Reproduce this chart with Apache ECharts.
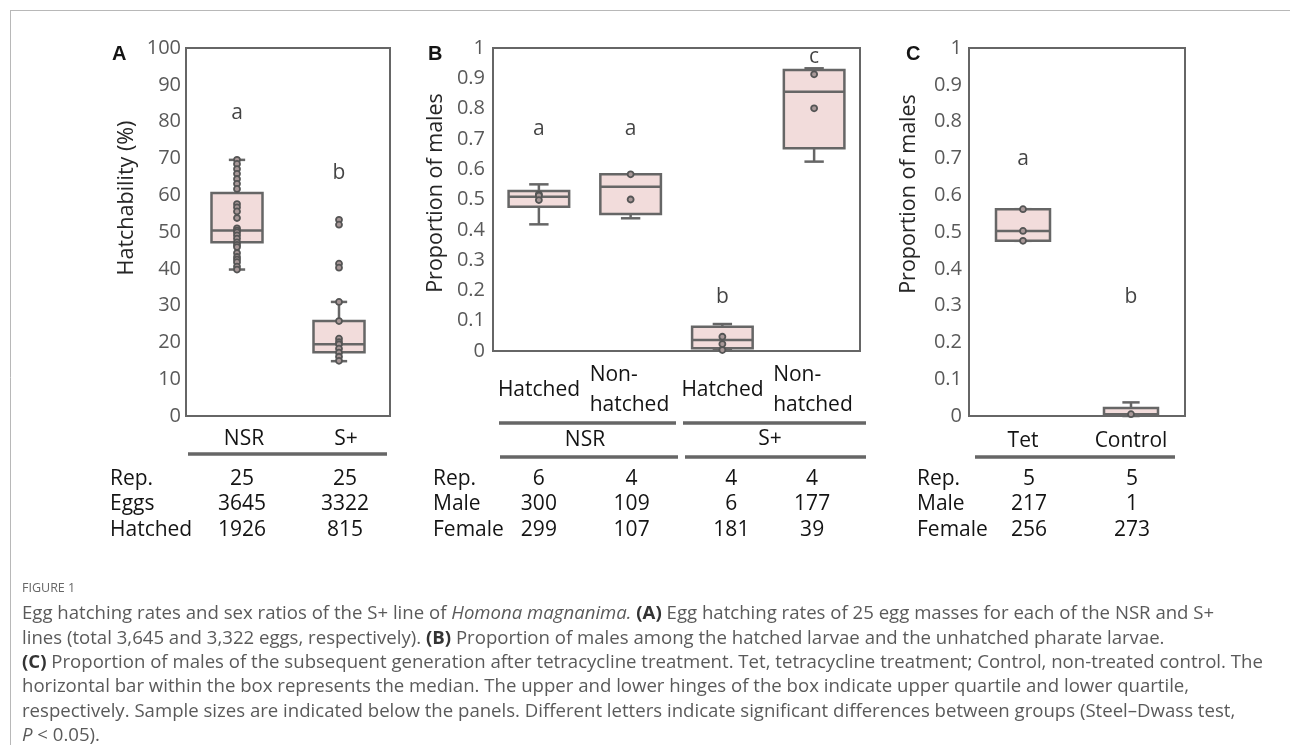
<!DOCTYPE html>
<html>
<head>
<meta charset="utf-8">
<script src="https://cdn.jsdelivr.net/npm/echarts@6/dist/echarts.min.js"></script>
<style>
  html, body { margin: 0; padding: 0; background: #fff; }
  #chart { width: 1290px; height: 747px; }
</style>
</head>
<body>
<div id="chart"></div>
<script>
  // ---- data ----
  // panel A: hatchability (%)
  var catsA = ['NSR', 'S+'];
  var boxA = [[39.8, 47.2, 50.4, 60.6, 69.6], [14.9, 17.3, 19.5, 25.8, 31.0]]; // min, q1, median, q3, max
  var ptsA_NSR = [69.6, 68.5, 67.1, 65.8, 64.4, 63.1, 61.7, 57.6, 56.7, 55.6, 53.8, 51.0, 50.4, 49.9, 49.1,
                  48.2, 47.2, 46.5, 45.9, 44.3, 43.2, 42.5, 41.8, 40.6, 39.8];
  var ptsA_S = [53.3, 52.0, 41.4, 40.3, 31.0, 25.8, 21.0, 20.1, 19.5, 18.3, 17.2, 16.1, 15.0];
  var lettersA = ['a', 'b'];
  var letterYA = [82.4, 66.1];

  // panel B: proportion of males, hatched / non-hatched
  var catsB = ['Hatched NSR', 'Non-hatched NSR', 'Hatched S+', 'Non-hatched S+'];
  var labelsB = ['Hatched', 'Non-\nhatched', 'Hatched', 'Non-\nhatched'];
  var boxB = [[0.418, 0.476, 0.509, 0.528, 0.550], [0.438, 0.452, 0.542, 0.583, 0.583],
              [0.003, 0.009, 0.036, 0.080, 0.089], [0.625, 0.669, 0.856, 0.927, 0.933]];
  var ptsB = [[0.517, 0.513, 0.498], [0.583, 0.500], [0.047, 0.023, 0.003], [0.913, 0.801]];
  var lettersB = ['a', 'a', 'b', 'c'];
  var letterYB = [0.733, 0.733, 0.179, 0.969];
  var groupsB = ['NSR', 'S+'];

  // panel C: tetracycline
  var catsC = ['Tet', 'Control'];
  var boxC = [[0.476, 0.476, 0.503, 0.562, 0.562], [0.0, 0.003, 0.005, 0.022, 0.037]];
  var ptsC = [[0.562, 0.503, 0.476], [0.005]];
  var lettersC = ['a', 'b'];
  var letterYC = [0.698, 0.324];

  // sample size tables
  var rowNamesA = ['Rep.', 'Eggs', 'Hatched'];
  var repA = [25, 25], eggsA = [3645, 3322], hatchedA = [1926, 815];
  var rowNamesB = ['Rep.', 'Male', 'Female'];
  var repB = [6, 4, 4, 4], maleB = [300, 109, 6, 177], femaleB = [299, 107, 181, 39];
  var rowNamesC = ['Rep.', 'Male', 'Female'];
  var repC = [5, 5], maleC = [217, 1], femaleC = [256, 273];

  // ---- styles ----
  var FONT = "'Open Sans', 'DejaVu Sans', sans-serif";
  var GRAY = '#666666';
  var PINK = '#f2dcdb';
  var INK = '#141414';

  var chart = echarts.init(document.getElementById('chart'));

  function boxSeries(idx, boxes) {
    return {
      type: 'custom', xAxisIndex: idx, yAxisIndex: idx, z: 2, silent: true,
      data: boxes.map(function (b, i) { return [i].concat(b); }),
      encode: { x: 0, y: [1, 2, 3, 4, 5] },
      renderItem: function (params, api) {
        var c = api.value(0);
        var p = [1, 2, 3, 4, 5].map(function (d) { return api.coord([c, api.value(d)]); });
        var band = api.size([1, 0])[0];
        var bw = band * (idx === 1 ? 0.66 : 0.5);
        var hw = bw / 2, cap = bw * 0.16;
        var x = p[0][0];
        var st = { stroke: GRAY, lineWidth: 2.5, fill: null };
        return {
          type: 'group',
          children: [
            { type: 'line', shape: { x1: x, y1: p[4][1], x2: x, y2: p[3][1] }, style: st },
            { type: 'line', shape: { x1: x, y1: p[1][1], x2: x, y2: p[0][1] }, style: st },
            { type: 'line', shape: { x1: x - cap, y1: p[4][1], x2: x + cap, y2: p[4][1] }, style: st },
            { type: 'line', shape: { x1: x - cap, y1: p[0][1], x2: x + cap, y2: p[0][1] }, style: st },
            { type: 'rect', shape: { x: x - hw, y: p[3][1], width: bw, height: p[1][1] - p[3][1] },
              style: { fill: PINK, stroke: GRAY, lineWidth: 2.5 } },
            { type: 'line', shape: { x1: x - hw, y1: p[2][1], x2: x + hw, y2: p[2][1] }, style: st }
          ]
        };
      }
    };
  }

  function pointSeries(idx, groups) {
    var data = [];
    groups.forEach(function (g, i) { g.forEach(function (v) { data.push([i, v]); }); });
    return {
      type: 'scatter', xAxisIndex: idx, yAxisIndex: idx, z: 3, silent: true,
      symbolSize: 6, data: data,
      itemStyle: { color: '#a89898', borderColor: '#555555', borderWidth: 1.8, opacity: 1 }
    };
  }

  function letterSeries(idx, letters, ys) {
    return {
      type: 'scatter', xAxisIndex: idx, yAxisIndex: idx, z: 4, silent: true,
      symbolSize: 1, itemStyle: { color: 'rgba(0,0,0,0)' },
      data: letters.map(function (l, i) { return [i, ys[i], l]; }),
      label: { show: true, position: 'inside', formatter: function (p) { return p.value[2]; },
               fontSize: 21, color: INK, fontFamily: FONT }
    };
  }

  function yAxis(idx, max, interval, margin) {
    return {
      gridIndex: idx, type: 'value', min: 0, max: max, interval: interval,
      axisLine: { show: false }, axisTick: { show: false }, splitLine: { show: false },
      axisLabel: { fontSize: 20, color: '#595959', margin: margin, fontFamily: FONT }
    };
  }

  function grid(left, top, width, height) {
    return { left: left, top: top, width: width, height: height, show: true,
             borderColor: GRAY, borderWidth: 2, backgroundColor: 'transparent' };
  }

  var catLabel = { fontSize: 21, color: INK, fontFamily: FONT, verticalAlign: 'middle' };

  chart.setOption({
    animation: false,
    grid: [grid(186, 48, 204, 368), grid(493, 48, 367, 303), grid(969, 48, 216, 368)],
    xAxis: [
      { gridIndex: 0, type: 'category', data: catsA, axisLine: { show: false }, axisTick: { show: false },
        axisLabel: Object.assign({ margin: 23, padding: [0, 0, 0, 14] }, catLabel) },
      { gridIndex: 1, type: 'category', data: catsB, axisLine: { show: false }, axisTick: { show: false },
        axisLabel: Object.assign({}, catLabel, {
          margin: 39, interval: 0,
          formatter: function (v, i) {
            return labelsB[i].split('\n').map(function (s) { return '{l|' + s + '}'; }).join('\n');
          },
          rich: { l: { width: 82, align: 'left', fontSize: 21, lineHeight: 30, color: INK, fontFamily: FONT } }
        }) },
      { gridIndex: 2, type: 'category', data: catsC, axisLine: { show: false }, axisTick: { show: false },
        axisLabel: Object.assign({ margin: 25 }, catLabel) }
    ],
    yAxis: [yAxis(0, 100, 10, 5), yAxis(1, 1, 0.1, 8), yAxis(2, 1, 0.1, 7)],
    series: [
      boxSeries(0, boxA), pointSeries(0, [ptsA_NSR, ptsA_S]), letterSeries(0, lettersA, letterYA),
      boxSeries(1, boxB), pointSeries(1, ptsB), letterSeries(1, lettersB, letterYB),
      boxSeries(2, boxC), pointSeries(2, ptsC), letterSeries(2, lettersC, letterYC)
    ]
  });

  // ---- annotations: panel letters, axis titles, tables, caption ----
  function colX(axis, i) { return chart.convertToPixel({ xAxisIndex: axis }, i); }
  function txt(x, y, s, opt) {
    var st = Object.assign({ text: s, fontSize: 21, fontFamily: FONT, fill: INK,
                             align: 'center', verticalAlign: 'middle' }, opt || {});
    return { type: 'text', x: x, y: y, style: st, silent: true };
  }
  function hline(x1, x2, y, w, c) {
    return { type: 'line', shape: { x1: x1, y1: y, x2: x2, y2: y },
             style: { stroke: c || GRAY, lineWidth: w || 3.5 }, silent: true };
  }

  var g = [];
  // frame of the figure
  g.push(hline(10, 1290, 10.5, 1, '#b8b8b8'));
  g.push({ type: 'line', shape: { x1: 10.5, y1: 10, x2: 10.5, y2: 745 },
           style: { stroke: '#b8b8b8', lineWidth: 1 }, silent: true });

  // panel letters
  var bold = { fontFamily: "'Liberation Sans', Arial, sans-serif", fontWeight: 'bold', fontSize: 20, align: 'left' };
  g.push(txt(112, 54, 'A', bold));
  g.push(txt(428, 54, 'B', bold));
  g.push(txt(906, 54, 'C', bold));

  // axis titles
  var rot = { rotation: Math.PI / 2 };
  [[127, 198, 'Hatchability (%)'], [436, 193, 'Proportion of males'], [909, 194, 'Proportion of males']]
    .forEach(function (a) { g.push(Object.assign(txt(a[0], a[1], a[2], { fontSize: 21.5, fill: '#262626' }), rot)); });

  // separator lines and group labels
  g.push(hline(188, 387, 454));
  g.push(hline(499, 676, 423)); g.push(hline(683, 866, 423));
  g.push(hline(500, 678, 457)); g.push(hline(685, 866, 457));
  g.push(txt(585, 440, groupsB[0]));
  g.push(txt(770, 439, groupsB[1]));
  g.push(hline(975, 1175, 457));

  // tables
  var rowsY = [479, 504, 530];
  function table(axis, left, names, rows, offs) {
    names.forEach(function (n, r) {
      g.push(txt(left, rowsY[r], n, { align: 'left' }));
      rows[r].forEach(function (v, i) {
        g.push(txt(colX(axis, i) + offs[i], rowsY[r], String(v)));
      });
    });
  }
  table(0, 110, rowNamesA, [repA, eggsA, hatchedA], [5, 6]);
  table(1, 433, rowNamesB, [repB, maleB, femaleB], [0, 1, 9, -2]);
  table(2, 917, rowNamesC, [repC, maleC, femaleC], [6, 1]);

  // caption
  var cap = { fontSize: 18.6, fontFamily: FONT, fill: '#5a5a5a' };
  var rich = {
    n: cap,
    b: Object.assign({}, cap, { fontWeight: 'bold', fill: '#333333' }),
    i: Object.assign({}, cap, { fontStyle: 'italic' })
  };
  var capLines = [
    '{n|Egg hatching rates and sex ratios of the S+ line of }{i|Homona magnanima.}{n| }{b|(A)}{n| Egg hatching rates of 25 egg masses for each of the NSR and S+}',
    '{n|lines (total 3,645 and 3,322 eggs, respectively). }{b|(B)}{n| Proportion of males among the hatched larvae and the unhatched pharate larvae.}',
    '{b|(C)}{n| Proportion of males of the subsequent generation after tetracycline treatment. Tet, tetracycline treatment; Control, non-treated control. The}',
    '{n|horizontal bar within the box represents the median. The upper and lower hinges of the box indicate upper quartile and lower quartile,}',
    '{n|respectively. Sample sizes are indicated below the panels. Different letters indicate significant differences between groups (Steel\u2013Dwass test,}',
    '{i|P}{n| < 0.05).}'
  ];
  var capX = 22;
  g.push(txt(capX, 588, 'FIGURE 1', { fontSize: 12.5, fill: '#666666', align: 'left' }));
  capLines.forEach(function (s, k) {
    g.push({ type: 'text', x: capX, y: 614 + k * 24.4, silent: true,
             style: { text: s, rich: rich, align: 'left', verticalAlign: 'middle', fontSize: 18.6, fontFamily: FONT, fill: '#5a5a5a' } });
  });

  chart.setOption({ graphic: g });
</script>
</body>
</html>
